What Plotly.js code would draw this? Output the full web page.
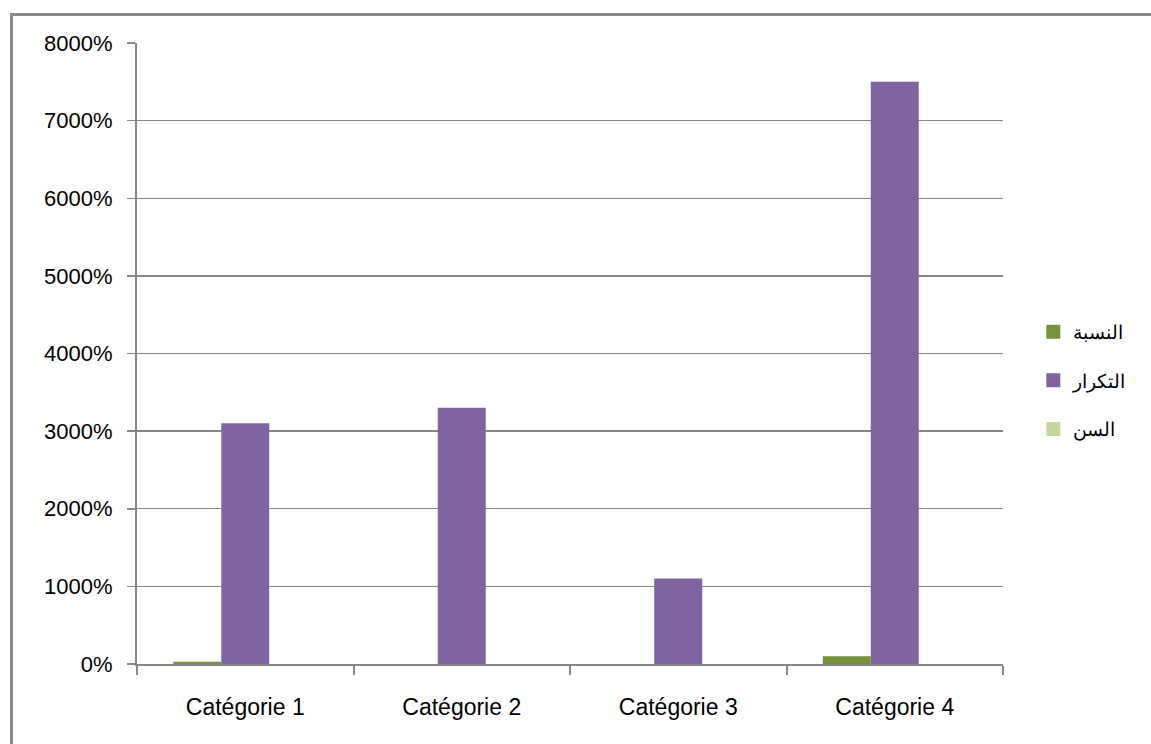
<!DOCTYPE html>
<html>
<head>
<meta charset="utf-8">
<script src="https://cdn.plot.ly/plotly-3.0.1.min.js"></script>
<style>
  html, body { margin: 0; padding: 0; width: 1151px; height: 744px; overflow: hidden; background: #ffffff; }
  #frame { position: absolute; left: 10px; top: 13px; width: 1141px; height: 731px;
           border-left: 3px solid #8a8a8a; border-top: 3px solid #8a8a8a; box-sizing: border-box; overflow: hidden; }
  #chart { position: absolute; left: 0; top: 0; width: 1138px; height: 728px; }
</style>
</head>
<body>
<div id="frame"><div id="chart"></div></div>
<script>
// Categories and series (values in percent)
const categories = ['Catégorie 1', 'Catégorie 2', 'Catégorie 3', 'Catégorie 4'];
const seriesNames = ['النسبة', 'التكرار', 'السن'];
const nisba  = [30, 0, 0, 100];
const takrar = [3100, 3300, 1100, 7500];
const sinn   = [0, 0, 0, 0];
const yTicks = [0, 1000, 2000, 3000, 4000, 5000, 6000, 7000, 8000];

const colors = ['#77933C', '#8064A2', '#C3D69B'];
const values = [nisba, takrar, sinn];

const traces = values.map((v, i) => ({
  type: 'bar',
  name: seriesNames[i],
  x: categories,
  y: v,
  legendgroup: 'g' + i,
  marker: { color: colors[i], line: { width: 0 } },
  hoverinfo: 'skip'
}));

const gray = '#868686';
const font = { family: 'Liberation Sans, Arial, sans-serif', size: 22, color: '#000000' };

const layout = {
  width: 1138,
  height: 728,
  margin: { l: 124, r: 148, t: 27, b: 80 },
  paper_bgcolor: '#ffffff',
  plot_bgcolor: '#ffffff',
  barmode: 'group',
  bargap: 0.335,
  bargroupgap: 0,
  font: font,
  showlegend: true,
  legend: {
    x: 1.035, xanchor: 'left',
    y: 0.456, yanchor: 'middle',
    font: { family: 'Liberation Sans, Arial, sans-serif', size: 19, color: '#000000' },
    tracegroupgap: 21,
    traceorder: 'grouped',
    itemwidth: 30,
    bgcolor: 'rgba(0,0,0,0)'
  },
  xaxis: {
    type: 'category',
    showline: true, linecolor: gray, linewidth: 2,
    ticks: 'outside', tickson: 'boundaries', ticklen: 9, tickwidth: 2, tickcolor: gray,
    showgrid: false, zeroline: false,
    tickfont: { family: font.family, size: 23, color: '#000000' },
    ticklabelstandoff: 21,
    fixedrange: true
  },
  yaxis: {
    range: [0, 8000],
    tickvals: yTicks,
    ticktext: yTicks.map(t => t + '%'),
    showline: true, linecolor: gray, linewidth: 2,
    ticks: 'outside', ticklen: 8, tickwidth: 1.5, tickcolor: gray,
    showgrid: true, gridcolor: gray, gridwidth: 1.3,
    zeroline: false,
    tickfont: font,
    ticklabelstandoff: 10,
    fixedrange: true
  }
};

// enlarge legend swatches to square markers
function enlargeSwatches() {
  document.querySelectorAll('#chart g.legendpoints path').forEach(p => {
    p.setAttribute('d', 'M7,7H-7V-7H7Z');
  });
}

Plotly.newPlot('chart', traces, layout, { displayModeBar: false, staticPlot: true }).then(gd => {
  enlargeSwatches();
  gd.on('plotly_afterplot', enlargeSwatches);
  setTimeout(enlargeSwatches, 50);
});
</script>
</body>
</html>
